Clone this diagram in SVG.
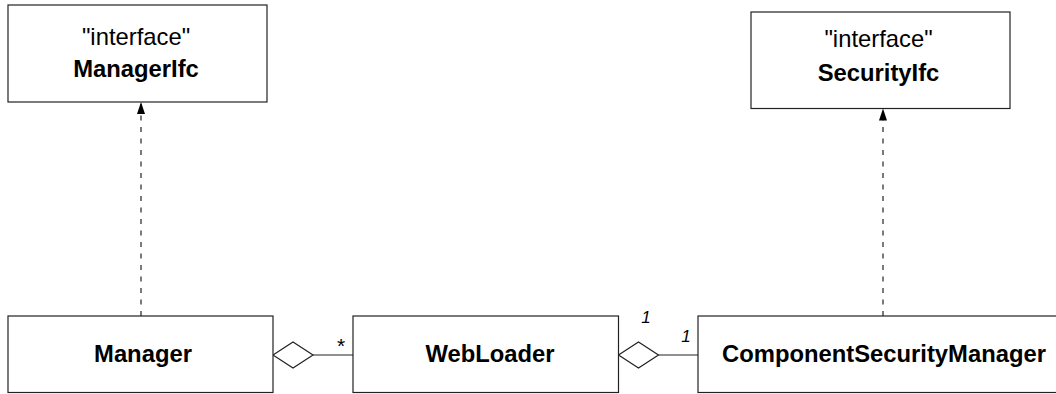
<svg xmlns="http://www.w3.org/2000/svg" width="1056" height="394" viewBox="0 0 1056 394">
  <style>
    .box { fill: #ffffff; stroke: #222222; stroke-width: 1.2; }
    .stereo { font-family: "Liberation Sans", Arial, sans-serif; font-size: 23.8px; fill: #000; text-anchor: middle; }
    .name { font-family: "Liberation Sans", Arial, sans-serif; font-size: 23.8px; font-weight: bold; fill: #000; text-anchor: middle; }
    .mult { font-family: "Liberation Sans", Arial, sans-serif; font-size: 17px; font-style: italic; fill: #000; text-anchor: middle; }
    .star { font-family: "Liberation Sans", Arial, sans-serif; font-size: 21px; fill: #000; text-anchor: middle; }
    .dep { stroke: #222222; stroke-width: 1.2; stroke-dasharray: 5 6.5; fill: none; }
    .assoc { stroke: #222222; stroke-width: 1.2; fill: none; }
    .agg { fill: #ffffff; stroke: #222222; stroke-width: 1.2; }
  </style>
  <defs>
    <marker id="realize" viewBox="0 0 12 8" refX="12" refY="4" markerWidth="12" markerHeight="8" markerUnits="userSpaceOnUse" orient="auto">
      <path d="M0,0 L12,4 L0,8 Z" fill="#000000"/>
    </marker>
  </defs>

  <rect width="1056" height="394" fill="#ffffff"/>

  <!-- connectors -->
  <g id="connectors">
    <line class="dep" x1="141" y1="316" x2="141" y2="102" marker-end="url(#realize)"/>
    <line class="dep" x1="883" y1="316" x2="883" y2="108.5" marker-end="url(#realize)"/>
    <!-- Manager ◇— WebLoader -->
    <polygon class="agg" points="273,355 293,342 313,355 293,368"/>
    <line class="assoc" x1="313" y1="355" x2="353" y2="355"/>
    <text class="star" x="341" y="353">*</text>
    <!-- WebLoader ◇— ComponentSecurityManager -->
    <polygon class="agg" points="618.5,355 638.5,342 658.5,355 638.5,368"/>
    <line class="assoc" x1="658.5" y1="355" x2="698" y2="355"/>
    <text class="mult" x="646" y="322.5">1</text>
    <text class="mult" x="686" y="341.5">1</text>
  </g>

  <!-- interface ManagerIfc -->
  <g id="ManagerIfc">
    <rect class="box" x="8" y="5" width="259" height="97"/>
    <text class="stereo" x="136" y="45">"interface"</text>
    <text class="name" x="136" y="77">ManagerIfc</text>
  </g>

  <!-- interface SecurityIfc -->
  <g id="SecurityIfc">
    <rect class="box" x="751" y="12" width="259" height="96.5"/>
    <text class="stereo" x="878.5" y="46.5">"interface"</text>
    <text class="name" x="878.5" y="80.5">SecurityIfc</text>
  </g>

  <!-- classes -->
  <g id="Manager">
    <rect class="box" x="8" y="316" width="265" height="76.5"/>
    <text class="name" x="143" y="361.5">Manager</text>
  </g>

  <g id="WebLoader">
    <rect class="box" x="353" y="316" width="265.5" height="76.5"/>
    <text class="name" x="490" y="361.5">WebLoader</text>
  </g>

  <g id="ComponentSecurityManager">
    <rect class="box" x="698" y="316" width="370" height="76.5"/>
    <text class="name" x="884" y="361.5">ComponentSecurityManager</text>
  </g>
</svg>
